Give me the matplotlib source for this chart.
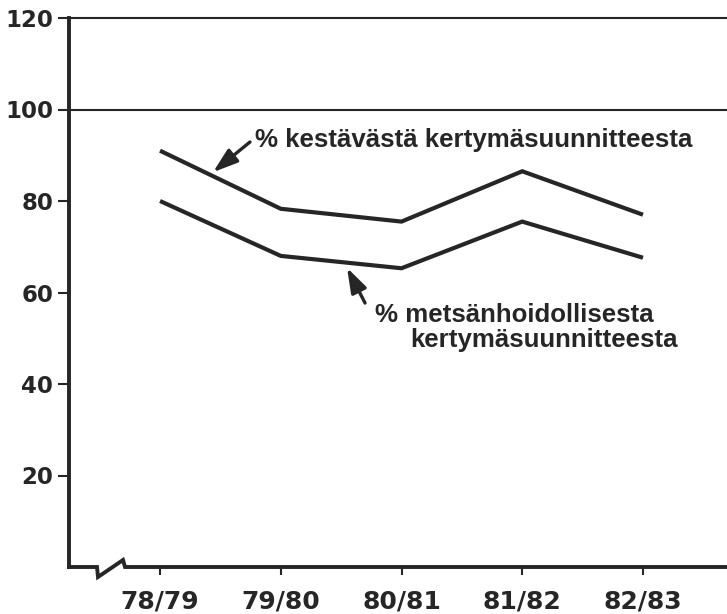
import matplotlib
matplotlib.use("Agg")
import matplotlib.pyplot as plt
from matplotlib.lines import Line2D

# Data
categories = ["78/79", "79/80", "80/81", "81/82", "82/83"]
sustainable_pct = [91, 78.3, 75.5, 86.5, 77]      # % kestävästä kertymäsuunnitteesta
silvicultural_pct = [80, 68, 65.3, 75.5, 67.6]    # % metsänhoidollisesta kertymäsuunnitteesta
y_ticks = [20, 40, 60, 80, 100, 120]

INK = "#262626"
W, H = 727, 614
fig = plt.figure(figsize=(W / 100, H / 100), dpi=100)
fig.patch.set_facecolor("white")

x0, x1, yb, yt = 69, 727, 567, 18
ax = fig.add_axes([x0 / W, 1 - yb / H, (x1 - x0) / W, (yb - yt) / H])

x = list(range(len(categories)))
ax.plot(x, sustainable_pct, color=INK, lw=3.0, solid_joinstyle="miter", solid_capstyle="butt")
ax.plot(x, silvicultural_pct, color=INK, lw=3.0, solid_joinstyle="miter", solid_capstyle="butt")

ax.set_xlim(-0.754, 4.696)
ax.set_ylim(0, 120)

for yv in (100, 120):
    ax.axhline(yv, color=INK, lw=1.5, clip_on=False, zorder=1)

ax.spines["top"].set_visible(False)
ax.spines["right"].set_visible(False)
ax.spines["bottom"].set_visible(False)
ax.spines["left"].set_linewidth(2.8)
ax.spines["left"].set_color(INK)

# bottom axis with break mark
aw, ah = x1 - x0, yb - yt
def axp(px, py):
    return ((px - x0) / aw, (yb - py) / ah)
pts = [axp(69, 567), axp(97, 567), axp(98, 577), axp(123, 560), axp(125, 567), axp(727, 567)]
ax.add_line(Line2D([p[0] for p in pts], [p[1] for p in pts], transform=ax.transAxes,
                   color=INK, lw=2.8, clip_on=False, solid_joinstyle="miter"))

ax.set_yticks(y_ticks)
ax.set_yticklabels([str(v) for v in y_ticks])
ax.set_xticks(x)
ax.set_xticklabels(categories)
ax.tick_params(axis="y", direction="out", length=8, width=1.5, color=INK, pad=3.5,
               labelsize=16.5, labelcolor=INK)
ax.tick_params(axis="x", direction="out", length=6, width=1.5, color=INK, pad=10,
               labelsize=18, labelcolor=INK)
for lab in ax.get_xticklabels() + ax.get_yticklabels():
    lab.set_fontfamily("DejaVu Sans")
    lab.set_fontweight("bold")

tfont = dict(family="Liberation Sans", weight="bold", size=18.6, color=INK)
ax.text(0.787, 91.8, "% kestävästä kertymäsuunnitteesta", va="baseline", ha="left", **tfont)
ax.text(1.781, 53.6, "% metsänhoidollisesta", va="baseline", ha="left", **tfont)
ax.text(2.070, 48.1, "kertymäsuunnitteesta", va="baseline", ha="left", **tfont)

aprops = dict(arrowstyle="-|>,head_length=1.5,head_width=0.5", color=INK, lw=2.4,
              shrinkA=0, shrinkB=0)
ax.annotate("", xy=(0.439, 86.3), xytext=(0.745, 92.9), arrowprops=aprops)
ax.annotate("", xy=(1.549, 65.4), xytext=(1.698, 57.7), arrowprops=aprops)

fig.savefig("out.png", dpi=100, facecolor="white")
